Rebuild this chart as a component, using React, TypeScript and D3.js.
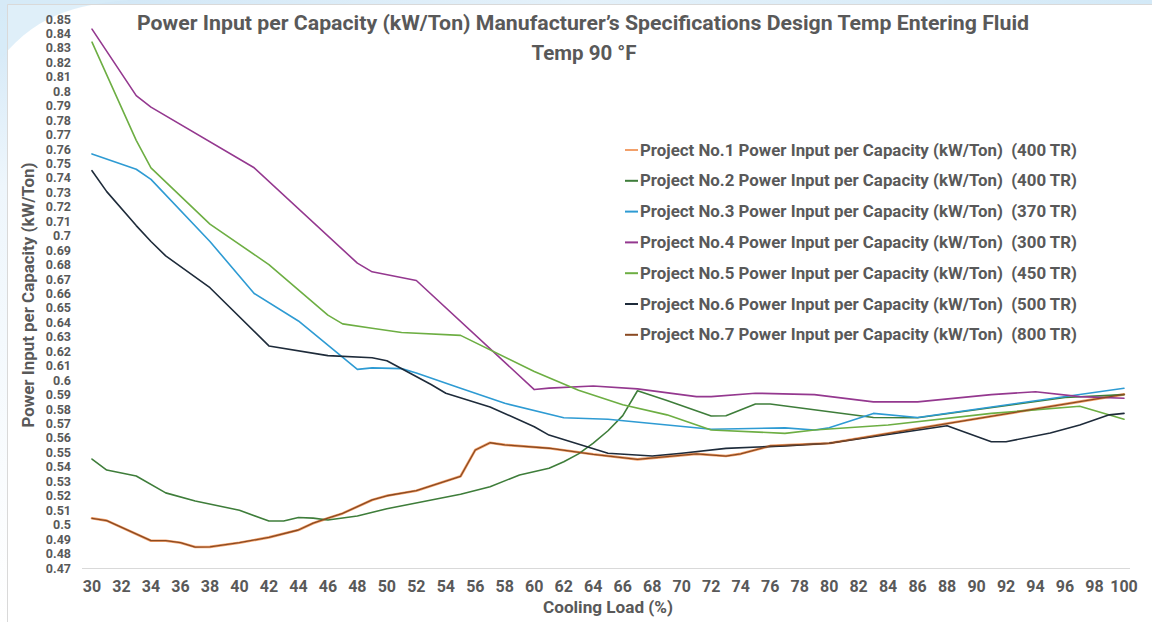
import React from 'react';
import * as d3 from 'd3';

const W = 1152;
const H = 622;

const titleLine1 = 'Power Input per Capacity (kW/Ton) Manufacturer\u2019s Specifications Design Temp Entering Fluid';
const titleLine2 = 'Temp 90 \u00B0F';
const xAxisTitle = 'Cooling Load (%)';
const yAxisTitle = 'Power Input per Capacity (kW/Ton)';

const xTicks = [30, 32, 34, 36, 38, 40, 42, 44, 46, 48, 50, 52, 54, 56, 58, 60, 62, 64, 66, 68, 70, 72, 74, 76, 78, 80, 82, 84, 86, 88, 90, 92, 94, 96, 98, 100];
const yTicks = [0.47, 0.48, 0.49, 0.5, 0.51, 0.52, 0.53, 0.54, 0.55, 0.56, 0.57, 0.58, 0.59, 0.6, 0.61, 0.62, 0.63, 0.64, 0.65, 0.66, 0.67, 0.68, 0.69, 0.7, 0.71, 0.72, 0.73, 0.74, 0.75, 0.76, 0.77, 0.78, 0.79, 0.8, 0.81, 0.82, 0.83, 0.84, 0.85];

const seriesNames = [
  'Project No.1 Power Input per Capacity (kW/Ton)  (400 TR)',
  'Project No.2 Power Input per Capacity (kW/Ton)  (400 TR)',
  'Project No.3 Power Input per Capacity (kW/Ton)  (370 TR)',
  'Project No.4 Power Input per Capacity (kW/Ton)  (300 TR)',
  'Project No.5 Power Input per Capacity (kW/Ton)  (450 TR)',
  'Project No.6 Power Input per Capacity (kW/Ton)  (500 TR)',
  'Project No.7 Power Input per Capacity (kW/Ton)  (800 TR)',
];
const seriesColors = ['#F2A06A', '#3E7D3A', '#2E9BD3', '#94388F', '#6DAE43', '#1E2B3A', '#8A4A22'];

// Project No.1 (same curve as No.7, drawn underneath)
const p1X = [30, 31, 34, 35, 36, 37, 38, 40, 42, 44, 45, 46, 47, 49, 50, 52, 55, 56, 57, 58, 61, 64, 67, 69, 71, 73, 74, 76, 80, 88, 100];
const p1Y = [0.5044, 0.5028, 0.4889, 0.4889, 0.4875, 0.4845, 0.4846, 0.4875, 0.4912, 0.4963, 0.5010, 0.5045, 0.5078, 0.5171, 0.5200, 0.5235, 0.5335, 0.5517, 0.5567, 0.5552, 0.5529, 0.5487, 0.5452, 0.5471, 0.5490, 0.5475, 0.5490, 0.5545, 0.5563, 0.5700, 0.5902];

// Project No.2
const p2X = [30, 31, 33, 35, 37, 40, 42, 43, 44, 45, 46, 48, 50, 55, 57, 59, 61, 62, 63, 64, 65, 66, 67, 69, 72, 73, 75, 76, 83, 86, 96, 100];
const p2Y = [0.5454, 0.5378, 0.5337, 0.5220, 0.5164, 0.5100, 0.5025, 0.5025, 0.5050, 0.5045, 0.5032, 0.5060, 0.5110, 0.5210, 0.5263, 0.5344, 0.5390, 0.5435, 0.5490, 0.5565, 0.5650, 0.5755, 0.5927, 0.5860, 0.5752, 0.5754, 0.5835, 0.5835, 0.5742, 0.5740, 0.5880, 0.5900];

// Project No.3
const p3X = [30, 33, 34, 38, 41, 44, 48, 49, 51, 52, 55, 58, 62, 65, 72, 77, 79, 80, 83, 86, 100];
const p3Y = [0.7566, 0.7460, 0.7390, 0.6960, 0.6600, 0.6410, 0.6075, 0.6085, 0.6080, 0.6050, 0.5944, 0.5840, 0.5740, 0.5730, 0.5660, 0.5670, 0.5655, 0.5670, 0.5770, 0.5742, 0.5944];

// Project No.4
const p4X = [30, 33, 34, 41, 48, 49, 52, 60, 61, 64, 67, 71, 72, 75, 79, 83, 86, 91, 94, 97, 100];
const p4Y = [0.8430, 0.7970, 0.7890, 0.7470, 0.6810, 0.6750, 0.6690, 0.5935, 0.5945, 0.5960, 0.5940, 0.5886, 0.5886, 0.5910, 0.5900, 0.5850, 0.5850, 0.5900, 0.5920, 0.5886, 0.5875];

// Project No.5
const p5X = [30, 33, 34, 38, 42, 46, 47, 49, 51, 55, 60, 63, 66, 69, 72, 77, 79, 84, 91, 97, 100];
const p5Y = [0.8340, 0.7660, 0.7470, 0.7080, 0.6800, 0.6450, 0.6390, 0.6360, 0.6330, 0.6310, 0.6060, 0.5930, 0.5830, 0.5760, 0.5655, 0.5632, 0.5655, 0.5690, 0.5770, 0.5820, 0.5730];

// Project No.6
const p6X = [30, 31, 33, 34, 35, 38, 42, 46, 49, 50, 53, 54, 57, 60, 61, 65, 68, 70, 73, 77, 80, 88, 91, 92, 95, 97, 99, 100];
const p6Y = [0.7450, 0.7305, 0.7070, 0.6960, 0.6860, 0.6640, 0.6237, 0.6170, 0.6155, 0.6135, 0.5970, 0.5910, 0.5815, 0.5678, 0.5620, 0.5494, 0.5475, 0.5494, 0.5528, 0.5545, 0.5563, 0.5685, 0.5574, 0.5574, 0.5635, 0.5690, 0.5760, 0.5770];

// Project No.7
const p7X = p1X;
const p7Y = p1Y;

const seriesX = [p1X, p2X, p3X, p4X, p5X, p6X, p7X];
const seriesY = [p1Y, p2Y, p3Y, p4Y, p5Y, p6Y, p7Y];
const seriesWidths = [2.6, 1.6, 1.6, 1.6, 1.6, 1.6, 1.3];

const FONT = "Roboto, 'Open Sans', 'DejaVu Sans', sans-serif";
const TEXT = '#595959';

export default function App() {
  const x = d3.scaleLinear().domain([30, 100]).range([92, 1124]);
  const y = d3.scaleLinear().domain([0.47, 0.85]).range([568, 19]);
  const line = d3
    .line<[number, number]>()
    .x((d) => x(d[0]))
    .y((d) => y(d[1]));

  const legendX = 625;
  const legendY0 = 150;
  const legendStep = 30.8;

  return (
    <svg
      width={W}
      height={H}
      viewBox={`0 0 ${W} ${H}`}
      style={{ position: 'absolute', left: 0, top: 0, background: '#fff' }}
    >
      <defs>
        <linearGradient id="bgTop" x1="0" y1="0" x2="1" y2="0">
          <stop offset="0" stopColor="#cfe6f6" />
          <stop offset="0.5" stopColor="#e4f1fa" />
          <stop offset="1" stopColor="#d3e9f7" />
        </linearGradient>
        <linearGradient id="bgLeft" x1="0" y1="0" x2="0" y2="1">
          <stop offset="0" stopColor="#cfe6f6" />
          <stop offset="0.3" stopColor="#eef6fc" />
          <stop offset="1" stopColor="#ffffff" />
        </linearGradient>
      </defs>
      <rect x={0} y={0} width={W} height={H} fill="#fff" />
      <rect x={0} y={0} width={W} height={5} fill="url(#bgTop)" />
      <rect x={0} y={0} width={7} height={H} fill="url(#bgLeft)" />
      <path d="M0,0 L130,0 C90,4 40,8 0,60 Z" fill="#d7ebf8" opacity={0.8} />
      <line x1={7.5} y1={4.5} x2={W} y2={4.5} stroke="#d9d9d9" strokeWidth={1} />
      <line x1={7.5} y1={4.5} x2={7.5} y2={H} stroke="#d9d9d9" strokeWidth={1} />

      {/* Title */}
      <text
        x={583}
        y={30}
        textAnchor="middle"
        fontFamily={FONT}
        fontWeight={700}
        fontSize={20}
        fill={TEXT}
        textLength={892}
        lengthAdjust="spacingAndGlyphs"
      >
        {titleLine1}
      </text>
      <text
        x={584}
        y={60}
        textAnchor="middle"
        fontFamily={FONT}
        fontWeight={700}
        fontSize={20}
        fill={TEXT}
        textLength={105}
        lengthAdjust="spacingAndGlyphs"
      >
        {titleLine2}
      </text>

      {/* X axis line */}
      <line x1={82} y1={568.5} x2={1130} y2={568.5} stroke="#d9d9d9" strokeWidth={1} />

      {/* Y tick labels */}
      {yTicks.map((t) => (
        <text
          key={'y' + t}
          x={71}
          y={y(t)}
          textAnchor="end"
          dominantBaseline="central"
          fontFamily={FONT}
          fontWeight={700}
          fontSize={12.5}
          fill={TEXT}
        >
          {String(t)}
        </text>
      ))}

      {/* X tick labels */}
      {xTicks.map((t) => (
        <text
          key={'x' + t}
          x={x(t)}
          y={592}
          textAnchor="middle"
          fontFamily={FONT}
          fontWeight={700}
          fontSize={16}
          fill={TEXT}
        >
          {t}
        </text>
      ))}

      {/* Axis titles */}
      <text
        x={608}
        y={613}
        textAnchor="middle"
        fontFamily={FONT}
        fontWeight={700}
        fontSize={16}
        fill={TEXT}
        textLength={130}
        lengthAdjust="spacingAndGlyphs"
      >
        {xAxisTitle}
      </text>
      <text
        transform={`translate(28,295) rotate(-90)`}
        textAnchor="middle"
        dominantBaseline="central"
        fontFamily={FONT}
        fontWeight={700}
        fontSize={16}
        fill={TEXT}
        textLength={265}
        lengthAdjust="spacingAndGlyphs"
      >
        {yAxisTitle}
      </text>

      {/* Series lines */}
      {seriesX.map((xs, i) => {
        const pts: [number, number][] = xs.map((v, j) => [v, seriesY[i][j]]);
        return (
          <path
            key={'s' + i}
            d={line(pts) || ''}
            fill="none"
            stroke={seriesColors[i]}
            strokeWidth={seriesWidths[i]}
            strokeLinejoin="round"
            strokeLinecap="round"
          />
        );
      })}

      {/* Legend */}
      {seriesNames.map((name, i) => {
        const cy = legendY0 + i * legendStep;
        return (
          <g key={'l' + i}>
            <line x1={legendX} y1={cy} x2={legendX + 13} y2={cy} stroke={seriesColors[i]} strokeWidth={2} />
            <text
              x={legendX + 15}
              y={cy + 5.5}
              fontFamily={FONT}
              fontWeight={700}
              fontSize={16.5}
              fill={TEXT}
              textLength={437}
              lengthAdjust="spacingAndGlyphs"
              style={{ whiteSpace: 'pre' }}
            >
              {name}
            </text>
          </g>
        );
      })}
    </svg>
  );
}
